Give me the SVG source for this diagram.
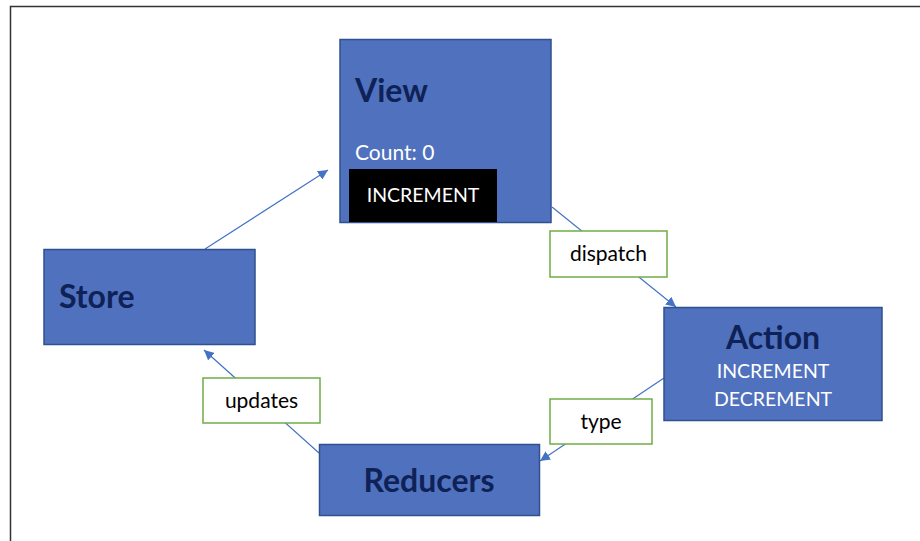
<svg xmlns="http://www.w3.org/2000/svg" width="920" height="541" viewBox="0 0 920 541">
<defs>
<marker id="ah" viewBox="0 0 10 10" refX="10" refY="5" markerWidth="10" markerHeight="10" markerUnits="userSpaceOnUse" orient="auto">
<path d="M0,0 L10,5 L0,10 z" fill="#4472C4"/>
</marker>
<style>
.node{fill:#4F71BE;stroke:#2F528F;stroke-width:1.5}
.lbl{fill:#fff;stroke:#70AD47;stroke-width:1.5}
.title{font-family:Lato,"Liberation Sans",sans-serif;font-weight:bold;fill:#0F2257;font-size:32px}
.wt{font-family:Lato,"Liberation Sans",sans-serif;fill:#fff;font-size:19.5px}
.ct{font-family:Lato,"Liberation Sans",sans-serif;fill:#fff;font-size:21px}
.bt{font-family:Lato,"Liberation Sans",sans-serif;fill:#000;font-size:21px}
.conn{stroke:#4472C4;stroke-width:1.2;fill:none;marker-end:url(#ah)}
</style>
</defs>
<rect width="920" height="541" fill="#fff"/>
<path d="M10.5,541 L10.5,6.5 L920,6.5" fill="none" stroke="#333" stroke-width="1.5"/>
<g id="connectors">
<line class="conn" x1="205" y1="249" x2="328" y2="170"/>
<line class="conn" x1="552" y1="207" x2="676" y2="307"/>
<line class="conn" x1="664" y1="378" x2="540" y2="461"/>
<line class="conn" x1="319" y1="453" x2="204" y2="350"/>
</g>
<g id="view">
<rect class="node" x="340" y="39.5" width="211" height="183"/>
<text class="title" x="355" y="102">View</text>
<text class="ct" x="355" y="160">Count: 0</text>
<rect x="349" y="169" width="148" height="53" fill="#000"/>
<text class="wt" x="423" y="202" text-anchor="middle">INCREMENT</text>
</g>
<g id="action">
<rect class="node" x="664" y="307.5" width="218" height="113"/>
<text class="title" x="773" y="349" text-anchor="middle">Action</text>
<text class="wt" x="773" y="378" text-anchor="middle">INCREMENT</text>
<text class="wt" x="773" y="406" text-anchor="middle">DECREMENT</text>
</g>
<g id="store">
<rect class="node" x="44" y="249.5" width="211" height="95"/>
<text class="title" x="59" y="308">Store</text>
</g>
<g id="reducers">
<rect class="node" x="319.5" y="444.5" width="220" height="71"/>
<text class="title" x="429" y="492" text-anchor="middle">Reducers</text>
</g>
<g id="label-dispatch">
<rect class="lbl" x="550" y="231" width="117" height="46"/>
<text class="bt" x="608.5" y="261" text-anchor="middle">dispatch</text>
</g>
<g id="label-type">
<rect class="lbl" x="550" y="399" width="102" height="45"/>
<text class="bt" x="601" y="429" text-anchor="middle">type</text>
</g>
<g id="label-updates">
<rect class="lbl" x="203" y="378" width="117" height="45"/>
<text class="bt" x="261.5" y="408" text-anchor="middle">updates</text>
</g>
</svg>
